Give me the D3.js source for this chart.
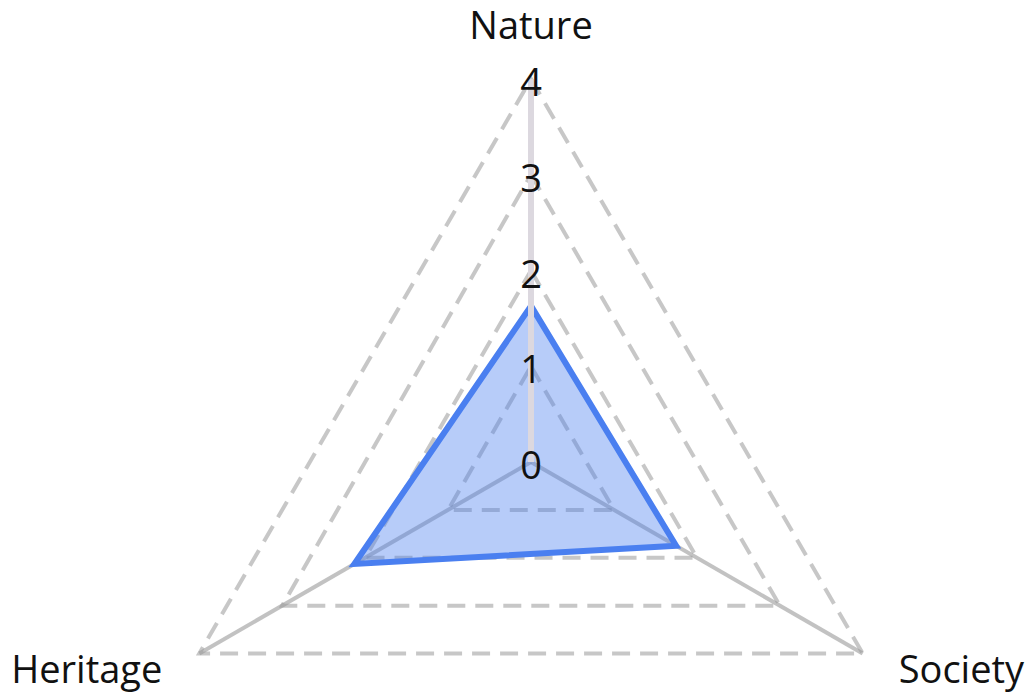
<!DOCTYPE html>
<html>
<head>
<meta charset="utf-8">
<script src="https://cdn.jsdelivr.net/npm/d3@7"></script>
<style>
  body { margin: 0; background: #fff; }
  svg { font-family: "Open Sans", "Noto Sans", sans-serif; }
</style>
</head>
<body>
<svg width="1032" height="696"></svg>
<script>
var axes_names = ["Nature", "Society", "Heritage"];
var values = [1.63, 1.75, 2.13];
var tick_values = [0, 1, 2, 3, 4];

function render() {
    var svg = d3.select("svg");
    var cx = 531, cy = 462;
    var radius = 383;

    var rs = d3.scaleLinear().domain([0, 4]).range([0, radius]);
    // nature up, then clockwise
    var angle = d3.scalePoint().domain(axes_names).range([-Math.PI / 2, -Math.PI / 2 + 2 * Math.PI * 2 / 3]);

    function pt(name, v) {
        var a = angle(name);
        return [rs(v) * Math.cos(a), rs(v) * Math.sin(a)];
    }

    var g = svg.append("g")
        .attr("transform", "translate(" + cx + "," + cy + ")");

    // dashed grid triangles
    g.selectAll("polygon.grid")
        .data(tick_values.slice(1))
        .enter()
        .append("polygon")
            .attr("class", "grid")
            .attr("points", function(t) {
                return axes_names.map(function(n) { return pt(n, t).join(","); }).join(" ");
            })
            .attr("fill", "none")
            .attr("stroke", "#999")
            .attr("stroke-opacity", 0.55)
            .attr("stroke-width", 4)
            .attr("stroke-dasharray", "18,10");

    // spokes (not nature)
    g.selectAll("line.spoke")
        .data(axes_names.slice(1))
        .enter()
        .append("line")
            .attr("class", "spoke")
            .attr("x1", 0).attr("y1", 0)
            .attr("x2", function(n) { return pt(n, 4)[0]; })
            .attr("y2", function(n) { return pt(n, 4)[1]; })
            .attr("stroke", "#999")
            .attr("stroke-opacity", 0.6)
            .attr("stroke-width", 4);

    // data polygon
    g.append("polygon")
        .attr("points", axes_names.map(function(n, i) { return pt(n, values[i]).join(","); }).join(" "))
        .attr("fill", "#4a7ff0")
        .attr("fill-opacity", 0.4)
        .attr("stroke", "#4a7ff0")
        .attr("stroke-width", 6)
        .attr("stroke-linejoin", "miter");

    // value axis along nature
    var top = pt("Nature", 4);
    g.append("line")
        .attr("x1", 0).attr("y1", 0)
        .attr("x2", top[0]).attr("y2", top[1])
        .attr("stroke", "#dcd8df")
        .attr("stroke-width", 6);

    g.selectAll("text.tick")
        .data(tick_values)
        .enter()
        .append("text")
            .attr("class", "tick")
            .attr("x", 0)
            .attr("y", function(t) { return pt("Nature", t)[1] + 17; })
            .attr("text-anchor", "middle")
            .style("font-size", "38px")
            .attr("fill", "#111")
            .text(function(t) { return t; });

    // axis labels
    var label_pos = {
        "Nature":   { dx: 0,   dy: -40, anchor: "middle" },
        "Society":  { dx: 36,  dy: 29,  anchor: "start" },
        "Heritage": { dx: -37, dy: 29,  anchor: "end" }
    };
    g.selectAll("text.label")
        .data(axes_names)
        .enter()
        .append("text")
            .attr("class", "label")
            .attr("x", function(n) { return pt(n, 4)[0] + label_pos[n].dx; })
            .attr("y", function(n) { return pt(n, 4)[1] + label_pos[n].dy; })
            .attr("text-anchor", function(n) { return label_pos[n].anchor; })
            .style("font-size", "38px")
            .attr("fill", "#111")
            .text(function(n) { return n; });
}

render();
</script>
</body>
</html>
